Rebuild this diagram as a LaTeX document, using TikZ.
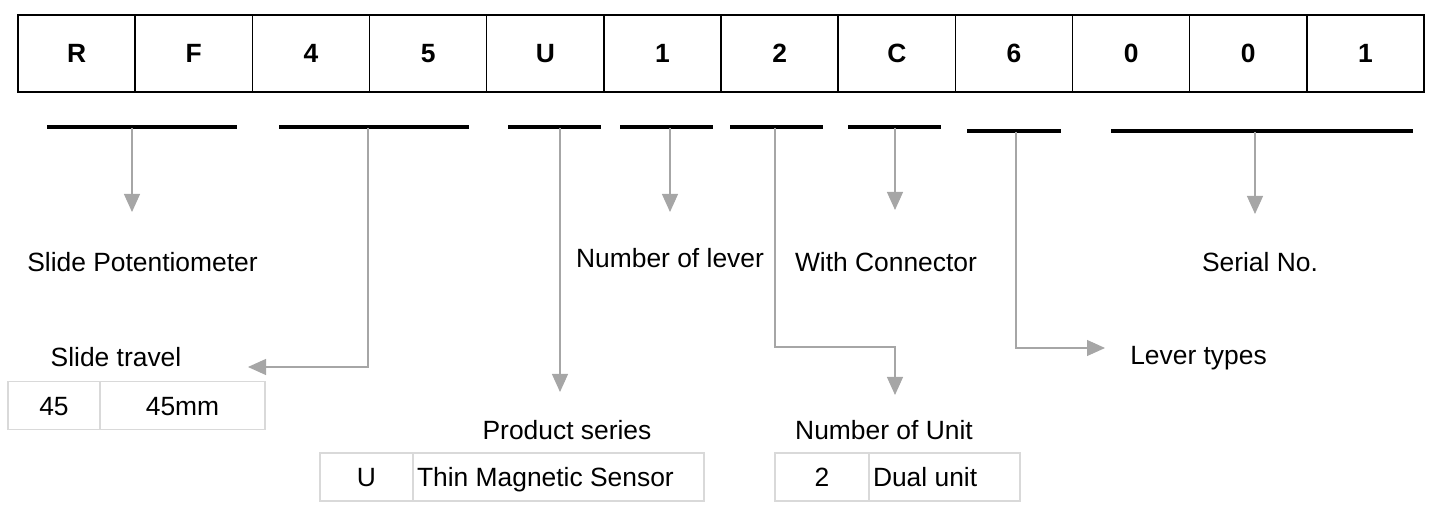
\documentclass[tikz,border=0pt]{standalone}
\usepackage{fontspec}
\setmainfont{Liberation Sans}
\usetikzlibrary{arrows.meta}
\definecolor{linkgray}{HTML}{A6A6A6}
\definecolor{tabgray}{HTML}{D9D9D9}
\begin{document}
\begin{tikzpicture}[x=0.5pt,y=-0.5pt,
  every node/.style={font=\fontsize{13.2}{15.8}\selectfont},
  cell/.style={draw=black,line width=0.7pt,minimum width=58.58pt,minimum height=38.5pt,inner sep=0pt,font=\fontsize{13.2}{15.8}\selectfont\bfseries},
  tcell/.style={draw=tabgray,line width=0.6pt,minimum height=24pt,inner sep=0pt,text height=10.5pt,text depth=0.8pt},
  lcell/.style={tcell,inner xsep=2pt},
  bar/.style={black,line width=2pt},
  link/.style={linkgray,line width=0.55pt,-{Triangle[width=8pt,length=9pt]}}]
\useasboundingbox (0,0) rectangle (1436,523);
\node [cell] (c1) at (76.6,53.5) {R};
\node [cell] (c2) at (193.8,53.5) {F};
\node [cell] (c3) at (310.9,53.5) {4};
\node [cell] (c4) at (428.1,53.5) {5};
\node [cell] (c5) at (545.3,53.5) {U};
\node [cell] (c6) at (662.5,53.5) {1};
\node [cell] (c7) at (779.6,53.5) {2};
\node [cell] (c8) at (896.8,53.5) {C};
\node [cell] (c9) at (1014.0,53.5) {6};
\node [cell] (c10) at (1131.1,53.5) {0};
\node [cell] (c11) at (1248.3,53.5) {0};
\node [cell] (c12) at (1365.4,53.5) {1};
\draw [bar] (47,127) -- (237,127);
\draw [bar] (279,127) -- (469,127);
\draw [bar] (508,127) -- (601,127);
\draw [bar] (620,127) -- (713,127);
\draw [bar] (730,127) -- (823,127);
\draw [bar] (848,127) -- (941,127);
\draw [bar] (967,131) -- (1061,131);
\draw [bar] (1111,131) -- (1413,131);
\coordinate (b1) at (132,128);
\coordinate (b2) at (368,128);
\coordinate (b3) at (560,128);
\coordinate (b4) at (670,128);
\coordinate (b5) at (775,128);
\coordinate (b6) at (895,128);
\coordinate (b7) at (1016,132);
\coordinate (b8) at (1255,132);
\coordinate (k5) at (775,347);
\coordinate (t1) at (132,212);
\coordinate (t2) at (248,367);
\coordinate (t3) at (560,392);
\coordinate (t4) at (670,212);
\coordinate (t5) at (895,395);
\coordinate (t6) at (895,210);
\coordinate (t7) at (1105,348);
\coordinate (t8) at (1255,214);
\draw [link] (b1) -- (t1);
\draw [link] (b2) |- (t2);
\draw [link] (b3) -- (t3);
\draw [link] (b4) -- (t4);
\draw [link] (b5) -- (k5) -| (t5);
\draw [link] (b6) -- (t6);
\draw [link] (b7) |- (t7);
\draw [link] (b8) -- (t8);
\node (pot) at (142.5,262) {Slide Potentiometer};
\node (lev) at (670,258) {Number of lever};
\node (con) at (886,262) {With Connector};
\node (ser) at (1260,262) {Serial No.};
\node (tra) at (116,357) {Slide travel};
\node (typ) at (1198.5,358) {Lever types};
\node (pro) at (567,430) {Product series};
\node (uni) at (884,430) {Number of Unit};
\node [tcell,minimum width=46pt] (s1) at (54,405.5) {45};
\node [tcell,minimum width=82.5pt] (s2) at (182.5,405.5) {45mm};
\node [tcell,minimum width=46.5pt] (p1) at (366.5,477) {U};
\node [lcell] (p2) at (558.5,477) {\makebox[141.5pt][l]{Thin Magnetic Sensor}};
\node [tcell,minimum width=47pt] (n1) at (822,477) {2};
\node [lcell] (n2) at (944.5,477) {\makebox[71.5pt][l]{Dual unit}};
\end{tikzpicture}
\end{document}
